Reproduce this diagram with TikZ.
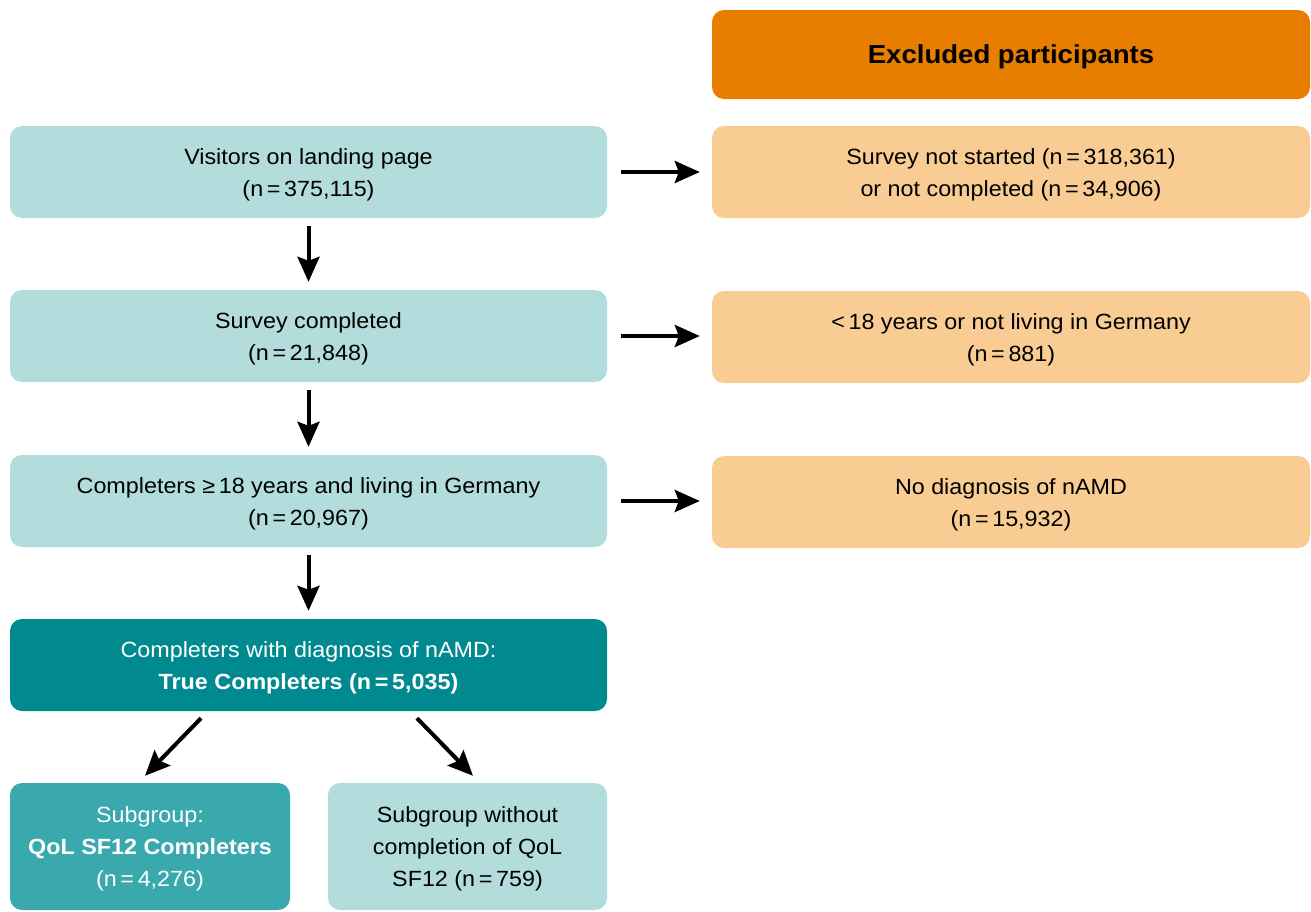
\documentclass[tikz,border=0pt]{standalone}
\usepackage{fontspec}
\setmainfont[FakeStretch=1.06]{Liberation Sans}
\usetikzlibrary{arrows.meta}
\definecolor{heador}{HTML}{E87E00}
\definecolor{lightor}{HTML}{F8CC93}
\definecolor{lightteal}{HTML}{B3DCDC}
\definecolor{darkteal}{HTML}{008A8F}
\definecolor{midteal}{HTML}{3AA9AD}
\newcommand\myst{\rule{0pt}{21pt}}
\tikzset{
  box/.style={rectangle, rounded corners=12pt, draw=none, align=center, inner sep=0pt,
    font=\fontsize{22}{32}\selectfont},
  leftbox/.style={box, fill=lightteal, minimum width=597pt, minimum height=92pt},
  rightbox/.style={box, fill=lightor, minimum width=598pt, minimum height=92pt},
  arr/.style={line width=4pt, -{Stealth[length=25pt,width=22pt,inset=4pt]}}
}
\begin{document}
\begin{tikzpicture}[x=1pt,y=-1pt]
\useasboundingbox (0,0) rectangle (1311,911);
\node[box, fill=heador, minimum width=598pt, minimum height=89pt, text height=18.6pt, text depth=1pt,
  font=\fontsize{26}{30}\selectfont\bfseries] (head) at (1011,54.5) {Excluded participants};
\node[leftbox] (v1) at (308.5,172) {\myst Visitors on landing page\\(n\,=\,375,115)};
\node[leftbox] (v2) at (308.5,336) {\myst Survey completed\\(n\,=\,21,848)};
\node[leftbox] (v3) at (308.5,501) {\myst Completers ≥\,18 years and living in Germany\\(n\,=\,20,967)};
\node[leftbox, fill=darkteal, text=white] (v4) at (308.5,665) {\myst Completers with diagnosis of nAMD:\\\textbf{True Completers (n\,=\,5,035)}};
\node[box, fill=midteal, text=white, minimum width=280pt, minimum height=127pt] (s1) at (150,846.5) {\myst Subgroup:\\\textbf{QoL SF12 Completers}\\(n\,=\,4,276)};
\node[box, fill=lightteal, minimum width=279pt, minimum height=127pt] (s2) at (467.5,846.5) {\myst Subgroup without\\completion of QoL\\SF12 (n\,=\,759)};
\node[rightbox] (r1) at (1011,172) {\myst Survey not started (n\,=\,318,361)\\or not completed (n\,=\,34,906)};
\node[rightbox] (r2) at (1011,337) {\myst <\,18 years or not living in Germany\\(n\,=\,881)};
\node[rightbox] (r3) at (1011,502) {\myst No diagnosis of nAMD\\(n\,=\,15,932)};
\draw[arr, shorten <=14pt, shorten >=12pt] (v1.east) -- (r1.west);
\draw[arr, shorten <=14pt, shorten >=12pt] (v2.east) -- (v2.east -| r2.west);
\draw[arr, shorten <=14pt, shorten >=12pt] (v3.east) -- (v3.east -| r3.west);
\draw[arr, shorten <=8pt, shorten >=8pt] (v1.south) -- (v2.north);
\draw[arr, shorten <=8pt, shorten >=8pt] (v2.south) -- (v3.north);
\draw[arr, shorten <=8pt, shorten >=8pt] (v3.south) -- (v4.north);
\draw[arr] ([xshift=-107.5pt,yshift=-7pt]v4.south) -- ([xshift=-5pt,yshift=7pt]s1.north);
\draw[arr] ([xshift=108.5pt,yshift=-7pt]v4.south) -- ([xshift=5.5pt,yshift=7pt]s2.north);
\end{tikzpicture}
\end{document}
